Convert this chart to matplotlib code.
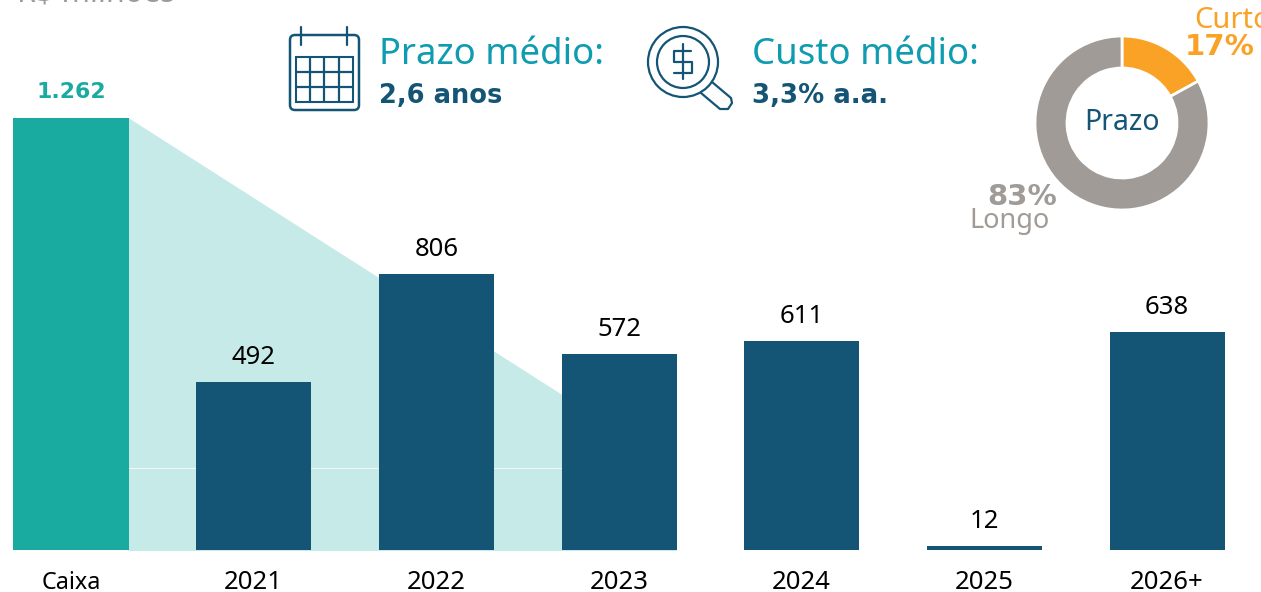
import matplotlib
matplotlib.use('Agg')
import matplotlib.pyplot as plt
from matplotlib.patches import Circle, FancyBboxPatch, Polygon, Rectangle

plt.rcParams['font.family'] = ['Noto Sans', 'DejaVu Sans']

categories = ['Caixa', '2021', '2022', '2023', '2024', '2025', '2026+']
values = [1262, 492, 806, 572, 611, 12, 638]
value_labels = ['1.262', '492', '806', '572', '611', '12', '638']
donut_labels = ['Curto', 'Longo']
donut_values = [17, 83]

TEAL = '#1aaba0'
NAVY = '#145575'
WEDGE = '#c6eae7'
CYAN = '#0f9bb0'
ORANGE = '#faa226'
GRAY = '#a09b96'

W, H = 1261, 592
fig = plt.figure(figsize=(W / 100, H / 100), dpi=100)

# main bars, axes fills the figure so the scale lines up with the picture
px_x = 182.67
px_y = 432 / 1262
ax = fig.add_axes([0, 0, 1, 1])
ax.set_xlim(-71 / px_x, (W - 71) / px_x)
ax.set_ylim(-42 / px_y, 550 / px_y)
ax.axis('off')

bar_w = 115 / px_x
colors = [TEAL] + [NAVY] * 6
ax.add_patch(Polygon([(bar_w / 2, values[0]), (3 + bar_w / 2, 240), (3 + bar_w / 2, -3), (bar_w / 2, -3)],
                     closed=True, fc=WEDGE, ec='none', zorder=1))
ax.plot([bar_w / 2, 3], [240, 240], color='white', lw=0.8, alpha=0.7, zorder=1.5)
ax.bar(range(len(values)), values, width=bar_w, color=colors, zorder=2)

for i, (v, lab) in enumerate(zip(values, value_labels)):
    if i == 0:
        ax.text(i, v + 76, lab, ha='center', va='center', fontsize=15.8, color=TEAL,
                fontweight='bold', family='DejaVu Sans')
        ax.text(i, -96, categories[i], ha='center', va='center', fontsize=16.8, color='black')
    else:
        ax.text(i, v + 71, lab, ha='center', va='center', fontsize=18.5, color='black')
        ax.text(i, -96, categories[i], ha='center', va='center', fontsize=18.5, color='black')

# overlay in pixels for the header texts and icons
ov = fig.add_axes([0, 0, 1, 1], zorder=5)
ov.set_xlim(0, W)
ov.set_ylim(H, 0)
ov.axis('off')
ov.patch.set_alpha(0)

bold = dict(ha='left', va='center', fontweight='bold', family='DejaVu Sans')
ov.text(17, -6, 'R$ milhões', ha='left', va='center', fontsize=22, color=GRAY)
ov.text(379, 55, 'Prazo médio:', ha='left', va='center', fontsize=26.3, color=CYAN)
ov.text(379, 96, '2,6 anos', fontsize=18.5, color=NAVY, **bold)
ov.text(752, 55, 'Custo médio:', ha='left', va='center', fontsize=26.3, color=CYAN)
ov.text(752, 96, '3,3% a.a.', fontsize=18.7, color=NAVY, **bold)

# calendar icon
ic = dict(color=NAVY, lw=1.6, solid_capstyle='round')
ov.add_patch(FancyBboxPatch((293, 38), 63, 69, boxstyle='round,pad=3,rounding_size=5', fc='none', ec=NAVY, lw=1.8))
ov.add_patch(Rectangle((296, 57), 57, 45, fc='none', ec=NAVY, lw=1.5))
for x in [310, 324, 339]:
    ov.plot([x, x], [57, 102], **ic)
for y in [72, 87]:
    ov.plot([296, 353], [y, y], **ic)
for x in [301, 347]:
    ov.plot([x, x], [27, 45], **ic)

# magnifier icon
ov.add_patch(Circle((683, 62), 35, fc='none', ec=NAVY, lw=1.6))
ov.add_patch(Circle((683, 62), 26, fc='none', ec=NAVY, lw=1.6))
ov.plot([701, 720, 728, 732, 731, 712], [93, 109, 109, 103, 98, 82], **ic)
ov.plot([691, 674, 674, 692, 692, 674], [51, 51, 62, 62, 73, 73], **ic)
ov.plot([683, 683], [44, 79], **ic)

# donut
dx, dy, dr = 1122, 123, 87
dax = fig.add_axes([(dx - dr) / W, 1 - (dy + dr) / H, 2 * dr / W, 2 * dr / H], zorder=4)
dax.pie(donut_values, colors=[ORANGE, GRAY], startangle=90, counterclock=False, radius=1,
        wedgeprops=dict(width=32 / 87, edgecolor='white', linewidth=2))
dax.set_xlim(-1, 1)
dax.set_ylim(-1, 1)

ov.text(1122, 123, 'Prazo', ha='center', va='center', fontsize=20.5, color=NAVY)
ov.text(1194, 20, donut_labels[0], ha='left', va='center', fontsize=21, color=ORANGE)
ov.text(1220, 47, '%d%%' % donut_values[0], ha='center', va='center', fontsize=21, color=ORANGE,
        fontweight='bold', family='DejaVu Sans')
ov.text(1022, 197, '%d%%' % donut_values[1], ha='center', va='center', fontsize=21, color=GRAY,
        fontweight='bold', family='DejaVu Sans')
ov.text(1009, 221, donut_labels[1], ha='center', va='center', fontsize=19.5, color=GRAY)

fig.savefig('out.png', dpi=100)
